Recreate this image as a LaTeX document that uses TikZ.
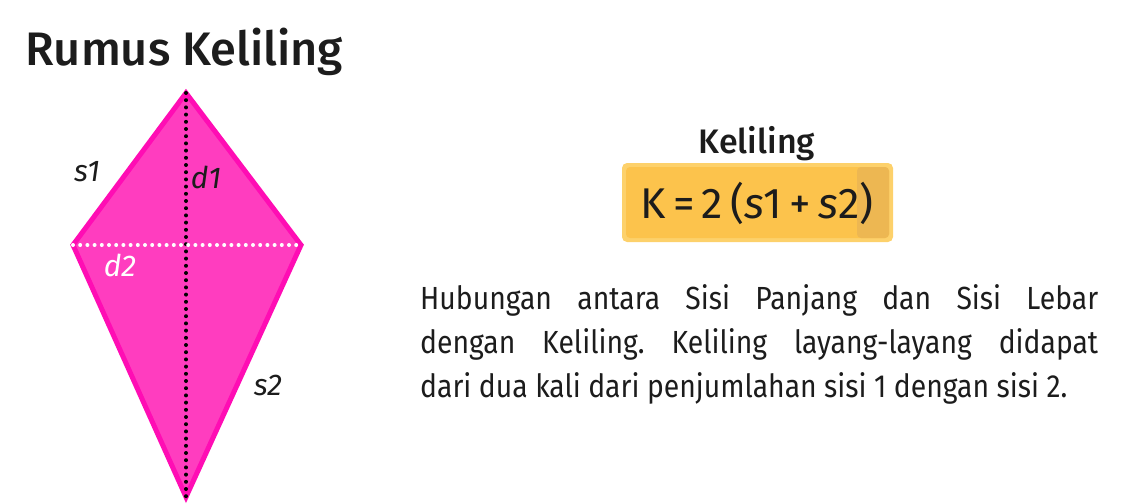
\documentclass[tikz,border=0pt]{standalone}
\usepackage{fontspec}
\setmainfont{Fira Sans}[BoldFont={Fira Sans Medium}]
\newfontfamily\narrowfont[FakeStretch=0.885]{Fira Sans}
\usetikzlibrary{positioning}
\definecolor{kitepink}{HTML}{FF3DBF}
\definecolor{kiteedge}{HTML}{FF0DB4}
\definecolor{boxyellow}{HTML}{FCC34C}
\definecolor{boxedge}{HTML}{FDD16B}
\definecolor{boxshade}{HTML}{EDB752}
\definecolor{inkgray}{HTML}{1C1C1C}
\tikzset{side label/.style={font=\fontsize{30}{30}\selectfont\itshape,text=inkgray,inner sep=0pt}}
\tikzset{dots line/.style={line width=4pt,line cap=round,dash pattern=on 0pt off 7.2pt}}

\begin{document}
\begin{tikzpicture}[x=1pt,y=-1pt]
    \useasboundingbox (0,0) rectangle (1131,503);
    \coordinate (top) at (186,93);
    \coordinate (left) at (73,245);
    \coordinate (right) at (301,245);
    \coordinate (bottom) at (186,497);

    % kite
    \filldraw[fill=kitepink,draw=kiteedge,line width=5pt,line join=miter] (top) -- (right) -- (bottom) -- (left) -- cycle;
    \draw[dots line,black] (top) -- (bottom);
    \draw[dots line,white] (left) -- (right);

    \node[side label] (s_{1}) at (87,172) {s1};
    \node[side label] (d_{1}) at (206,177) {d1};
    \node[side label,text=white] (d_{2}) at (120,265) {d2};
    \node[side label] (s_{2}) at (268,385) {s2};

    % title
    \node[anchor=base west,inner sep=0pt,text=inkgray,font=\fontsize{47}{47}\selectfont\bfseries] (title) at (25,65) {Rumus Keliling};

    % formula box
    \node[anchor=base,inner sep=0pt,text=inkgray,font=\fontsize{34}{34}\selectfont\bfseries] (heading) at (757,153) {Keliling};
    \fill[boxedge,rounded corners=5pt] (622,163) rectangle (893,242);
    \fill[boxyellow,rounded corners=4pt] (626,167) rectangle (889,238);
    \fill[boxshade,rounded corners=4pt] (857,167) rectangle (889,238);
    \node[anchor=base,inner sep=0pt,text=inkgray,font=\fontsize{43}{43}\selectfont] (formula) at (757,218) {K\,=\,2\,(\textit{s}1\,+\,\textit{s}2)};

    % description
    \node[anchor=north west,inner sep=0pt,text width=678pt,align=justify,text=inkgray,font=\narrowfont\fontsize{32}{44}\selectfont\frenchspacing] (desc) at (420,284)
        {Hubungan antara Sisi Panjang dan Sisi Lebar\linebreak dengan Keliling. Keliling layang-layang didapat\linebreak dari dua kali dari penjumlahan sisi 1 dengan sisi 2.};
\end{tikzpicture}
\end{document}
